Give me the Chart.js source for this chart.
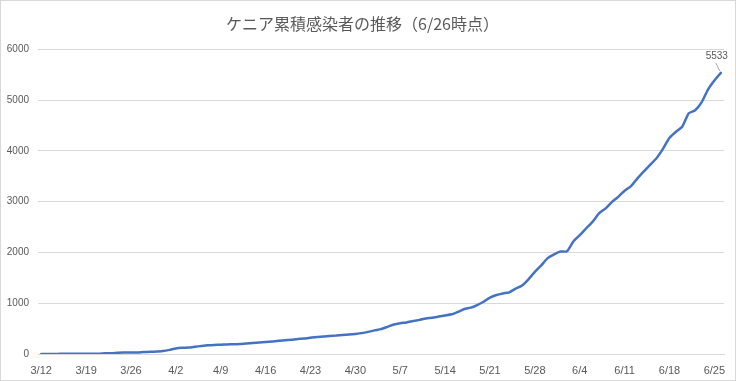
<!DOCTYPE html>
<html>
<head>
<meta charset="utf-8">
<script src="https://cdn.jsdelivr.net/npm/chart.js@4/dist/chart.umd.min.js"></script>
<style>
  html, body { margin: 0; padding: 0; background: #fff; }
  #wrap {
    width: 736px; height: 381px; box-sizing: border-box;
    border: 1px solid #d9d9d9; background: #fff;
  }
  canvas { display: block; }
</style>
</head>
<body>
<div id="wrap"><canvas id="kenya" width="734" height="379"></canvas></div>
<script>
// Daily dates, 3/12 .. 6/26
const dates = [
  '3/12','3/13','3/14','3/15','3/16','3/17','3/18','3/19','3/20','3/21',
  '3/22','3/23','3/24','3/25','3/26','3/27','3/28','3/29','3/30','3/31',
  '4/1','4/2','4/3','4/4','4/5','4/6','4/7','4/8','4/9','4/10',
  '4/11','4/12','4/13','4/14','4/15','4/16','4/17','4/18','4/19','4/20',
  '4/21','4/22','4/23','4/24','4/25','4/26','4/27','4/28','4/29','4/30',
  '5/1','5/2','5/3','5/4','5/5','5/6','5/7','5/8','5/9','5/10',
  '5/11','5/12','5/13','5/14','5/15','5/16','5/17','5/18','5/19','5/20',
  '5/21','5/22','5/23','5/24','5/25','5/26','5/27','5/28','5/29','5/30','5/31',
  '6/1','6/2','6/3','6/4','6/5','6/6','6/7','6/8','6/9','6/10',
  '6/11','6/12','6/13','6/14','6/15','6/16','6/17','6/18','6/19','6/20',
  '6/21','6/22','6/23','6/24','6/25','6/26'
];

// Cumulative cases
const cases = [
  1, 1, 1, 3, 3, 3, 7, 7, 7, 7,
  15, 16, 25, 28, 31, 31, 38, 42, 50, 59,
  81, 110, 122, 126, 142, 158, 172, 179, 184, 189,
  191, 197, 208, 216, 225, 234, 246, 262, 270, 281,
  296, 303, 320, 336, 343, 355, 363, 374, 384, 396,
  411, 435, 465, 490, 535, 582, 607, 621, 649, 672,
  700, 715, 737, 758, 781, 830, 887, 912, 963, 1029,
  1109, 1161, 1192, 1214, 1286, 1348, 1471, 1618, 1745, 1888, 1962,
  2016, 2021, 2216, 2340, 2474, 2600, 2767, 2862, 2989, 3094,
  3215, 3305, 3457, 3594, 3727, 3860, 4044, 4257, 4374, 4478,
  4738, 4797, 4952, 5206, 5384, 5533
];

// Axis labels shown under the chart
const tickLabels = ['3/12','3/19','3/26','4/2','4/9','4/16','4/23','4/30',
  '5/7','5/14','5/21','5/28','6/4','6/11','6/18','6/25'];

const titleText = 'ケニア累積感染者の推移（6/26時点）';
const textColor = '#595959';
const gridColor = '#d9d9d9';

// Label on the last point with a short leader line
const lastLabel = {
  id: 'lastLabel',
  afterDatasetsDraw(chart) {
    const meta = chart.getDatasetMeta(0);
    const pt = meta.data[meta.data.length - 1];
    const ctx = chart.ctx;
    ctx.save();
    ctx.strokeStyle = '#a6a6a6';
    ctx.lineWidth = 1;
    ctx.beginPath();
    ctx.moveTo(pt.x - 1, pt.y - 2);
    ctx.lineTo(pt.x - 5, pt.y - 10);
    ctx.stroke();
    ctx.fillStyle = textColor;
    ctx.font = '10px "Liberation Sans", Arial, sans-serif';
    ctx.textAlign = 'center';
    ctx.textBaseline = 'middle';
    ctx.fillText(String(cases[cases.length - 1]), pt.x - 4, pt.y - 17);
    ctx.restore();
  }
};

new Chart(document.getElementById('kenya'), {
  type: 'line',
  data: {
    labels: dates,
    datasets: [{
      data: cases,
      borderColor: '#4472c4',
      borderWidth: 2.5,
      borderCapStyle: 'round',
      borderJoinStyle: 'round',
      pointRadius: 0,
      tension: 0.2,
      fill: false
    }]
  },
  options: {
    responsive: false,
    animation: false,
    layout: { padding: { top: 0, right: 11, bottom: 0, left: 0 } },
    plugins: {
      legend: { display: false },
      tooltip: { enabled: false },
      title: {
        display: true,
        text: titleText,
        color: textColor,
        font: { family: '"Noto Sans CJK JP", sans-serif', size: 16, weight: 'normal' },
        padding: { top: 13, bottom: 16 }
      }
    },
    scales: {
      x: {
        offset: true,
        grid: { display: false, drawTicks: false },
        border: { display: true, color: gridColor },
        afterFit: function(scale) { scale.height = 26; },
        ticks: {
          autoSkip: false,
          maxRotation: 0,
          padding: 10,
          color: textColor,
          font: { family: '"Liberation Sans", Arial, sans-serif', size: 11 },
          callback: function(v, i) {
            const d = dates[i];
            return tickLabels.includes(d) ? d : '';
          }
        }
      },
      y: {
        min: 0,
        max: 6000,
        grid: { color: gridColor, drawTicks: false },
        border: { display: false },
        afterFit: function(scale) { scale.width = 37; },
        ticks: {
          stepSize: 1000,
          padding: 9,
          color: textColor,
          font: { family: '"Liberation Sans", Arial, sans-serif', size: 10 },
          callback: function(v) { return String(v); }
        }
      }
    }
  },
  plugins: [lastLabel]
});
</script>
</body>
</html>
